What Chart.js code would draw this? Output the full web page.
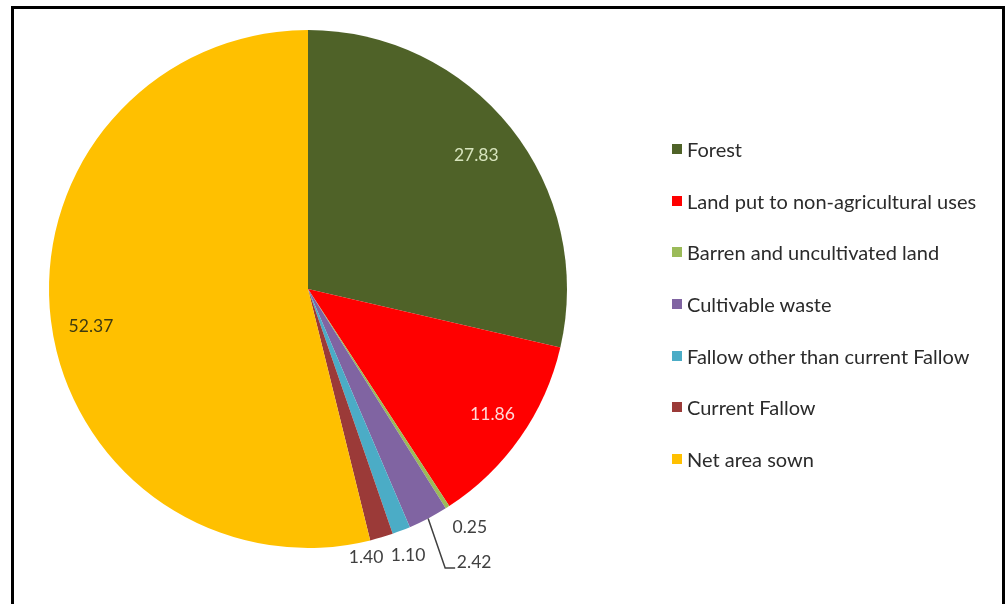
<!DOCTYPE html>
<html>
<head>
<meta charset="utf-8">
<script src="https://cdn.jsdelivr.net/npm/chart.js@4/dist/chart.umd.min.js"></script>
<style>
  html, body { margin: 0; padding: 0; background: #fff; }
  body { width: 1008px; height: 604px; position: relative; overflow: hidden; }
  #frame {
    position: absolute; left: 11px; top: 6px; width: 988px; height: 640px;
    border: 3px solid #000; border-bottom: none; box-sizing: content-box;
  }
  #wrap { position: absolute; left: 0; top: 0; width: 1008px; height: 604px; }
  #legend { position: absolute; left: 672px; top: 137px; font-family: Lato, "Open Sans", sans-serif; font-size: 20px; color: #2b2b2b; }
  .row { height: 51.7px; display: flex; align-items: flex-start; line-height: 24px; }
  .sw { width: 10px; height: 10px; margin-top: 7px; margin-right: 5px; }
</style>
</head>
<body>
<div id="frame"></div>
<div id="wrap"><canvas id="pie" width="1008" height="604"></canvas></div>
<div id="legend"></div>
<script>
const categories = [
  "Forest",
  "Land put to non-agricultural uses",
  "Barren and uncultivated land",
  "Cultivable waste",
  "Fallow other than current Fallow",
  "Current Fallow",
  "Net area sown"
];
const values = [27.83, 11.86, 0.25, 2.42, 1.10, 1.40, 52.37];
const labels = ["27.83", "11.86", "0.25", "2.42", "1.10", "1.40", "52.37"];
const colours = ["#4f6228", "#ff0000", "#9bbb59", "#8064a2", "#4bacc6", "#9b3a38", "#ffc000"];
const label_colours = ["#d7e4bd", "#ffd9d9", "#404040", "#404040", "#404040", "#404040", "#3f3a10"];

// where each value label sits: fraction of radius + angle shift in degrees
const label_place = [
  { r: 0.83, da: 0 },
  { r: 0.86, da: -0.9 },
  { r: 1.112, da: -1.6 },
  { r: 1.0, da: 0, leader: true },
  { r: 1.097, da: 0.5 },
  { r: 1.062, da: 4.3 },
  { r: 0.85, da: -2.7 }
];

// html legend
const legend = document.getElementById("legend");
for (let i = 0; i < categories.length; i ++) {
  const row = document.createElement("div");
  row.className = "row";
  row.innerHTML = `<div class="sw" style="background:${colours[i]}"></div><div>${categories[i]}</div>`;
  legend.appendChild(row);
}

const valueLabels = {
  id: "valueLabels",
  afterDatasetsDraw(chart) {
    const ctx = chart.ctx;
    const arcs = chart.getDatasetMeta(0).data;
    ctx.save();
    ctx.font = "17.5px Lato, 'Open Sans', sans-serif";
    ctx.textAlign = "center";
    ctx.textBaseline = "middle";
    arcs.forEach((arc, i) => {
      const p = arc.getProps(["x", "y", "startAngle", "endAngle", "outerRadius"], true);
      const mid = (p.startAngle + p.endAngle) / 2 + label_place[i].da * Math.PI / 180;
      const rad = p.outerRadius * label_place[i].r;
      let lx = p.x + Math.cos(mid) * rad;
      let ly = p.y + Math.sin(mid) * rad;
      if (label_place[i].leader) {
        // leader line from the slice edge down to the label
        const ex = p.x + Math.cos(mid) * p.outerRadius;
        const ey = p.y + Math.sin(mid) * p.outerRadius;
        const hy = p.y + p.outerRadius * 1.077;
        ctx.strokeStyle = "#404040";
        ctx.lineWidth = 1.5;
        ctx.beginPath();
        ctx.moveTo(ex, ey);
        ctx.lineTo(ex + 17, hy);
        ctx.lineTo(ex + 27, hy);
        ctx.stroke();
        lx = ex + 46;
        ly = hy - 6;
      }
      ctx.fillStyle = label_colours[i];
      ctx.fillText(labels[i], lx, ly);
    });
    ctx.restore();
  }
};

new Chart(document.getElementById("pie"), {
  type: "pie",
  data: {
    labels: categories,
    datasets: [{
      data: values,
      backgroundColor: colours,
      borderWidth: 0
    }]
  },
  options: {
    responsive: false,
    animation: false,
    layout: { padding: { left: 49, top: 30, right: 441, bottom: 56 } },
    plugins: { legend: { display: false }, tooltip: { enabled: false } }
  },
  plugins: [valueLabels]
});
</script>
</body>
</html>
